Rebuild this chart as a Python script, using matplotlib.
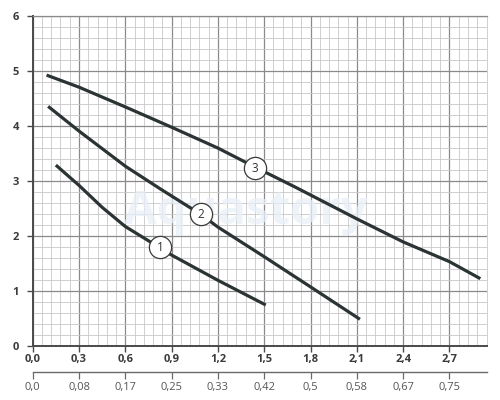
import numpy as np
import matplotlib
matplotlib.use("Agg")
import matplotlib.pyplot as plt
from matplotlib.ticker import MultipleLocator

# Data (flow m3/h, head m)
q1 = [0.15, 0.30, 0.45, 0.60, 0.82, 0.90, 1.20, 1.51]
h1 = [3.29, 2.92, 2.52, 2.17, 1.79, 1.65, 1.19, 0.74]
q2 = [0.10, 0.30, 0.60, 0.83, 1.09, 1.20, 1.50, 1.80, 2.12]
h2 = [4.36, 3.91, 3.27, 2.85, 2.39, 2.16, 1.62, 1.07, 0.48]
q3 = [0.09, 0.30, 0.60, 0.90, 1.20, 1.45, 1.70, 2.10, 2.40, 2.70, 2.90]
h3 = [4.93, 4.71, 4.35, 3.98, 3.60, 3.24, 2.89, 2.31, 1.89, 1.53, 1.22]

curve_labels = ["1", "2", "3"]
label_q = [0.825, 1.088, 1.44]
label_h = [1.79, 2.39, 3.23]

x_ticks = [0.0, 0.3, 0.6, 0.9, 1.2, 1.5, 1.8, 2.1, 2.4, 2.7]
x_labels = ["0,0", "0,3", "0,6", "0,9", "1,2", "1,5", "1,8", "2,1", "2,4", "2,7"]
y_ticks = [0, 1, 2, 3, 4, 5, 6]
ls_labels = ["0,0", "0,08", "0,17", "0,25", "0,33", "0,42", "0,5", "0,58", "0,67", "0,75"]

plt.rcParams['font.family'] = ['Open Sans', 'DejaVu Sans']

fig = plt.figure(figsize=(5, 4), dpi=100)
ax = fig.add_axes([0.0654, 0.136, 0.9076, 0.823])

ax.set_xlim(0, 2.94)
ax.set_ylim(0, 6)

ax.xaxis.set_minor_locator(MultipleLocator(0.06))
ax.yaxis.set_minor_locator(MultipleLocator(0.2))
ax.set_xticks(x_ticks, labels=x_labels)
ax.set_yticks(y_ticks)
ax.grid(which='major', color='#8a8a8a', lw=0.9)
ax.grid(which='minor', color='#c8c8c8', lw=0.6)
ax.set_axisbelow(True)

ax.spines['top'].set_color('#8a8a8a')
ax.spines['top'].set_linewidth(0.9)
ax.spines['right'].set_color('#c8c8c8')
ax.spines['right'].set_linewidth(0.6)
for s in ['left', 'bottom']:
    ax.spines[s].set_color('#4a4a4a')
    ax.spines[s].set_linewidth(1.4)

ax.tick_params(which='major', length=4, width=1.0, color='#4a4a4a',
               labelsize=8, labelcolor='#3a3a3a', pad=2)
ax.tick_params(which='minor', length=0)
for lab in ax.get_xticklabels() + ax.get_yticklabels():
    lab.set_fontweight('bold')
ax.tick_params(axis='y', pad=6)

# watermark
ax.text(1.38, 2.45, "Aquastory", fontsize=34, fontweight='bold', color='#e8eff7',
        ha='center', va='center', zorder=1, alpha=0.75)

line_color = '#2b3335'
for q, h in [(q1, h1), (q2, h2), (q3, h3)]:
    ax.plot(q, h, color=line_color, lw=2.3, solid_capstyle='butt',
            solid_joinstyle='round', zorder=3)

for t, xq, yh in zip(curve_labels, label_q, label_h):
    ax.plot(xq, yh, marker='o', ms=16, mfc='white', mec='#3a3a3a', mew=0.9, zorder=4)
    ax.text(xq, yh, t, ha='center', va='center', fontsize=8.5, color='#333333', zorder=5)

# secondary axis (l/s)
sec = ax.secondary_xaxis(-0.08, functions=(lambda x: x / 3.6, lambda x: x * 3.6))
sec.set_xticks(np.array(x_ticks) / 3.6, labels=ls_labels)
sec.spines['bottom'].set_color('#6a6a6a')
sec.spines['bottom'].set_linewidth(1.0)
sec.tick_params(length=5, width=0.9, color='#6a6a6a', labelsize=8,
                labelcolor='#555555', pad=2)

fig.savefig("out.png", dpi=100, facecolor='white')
